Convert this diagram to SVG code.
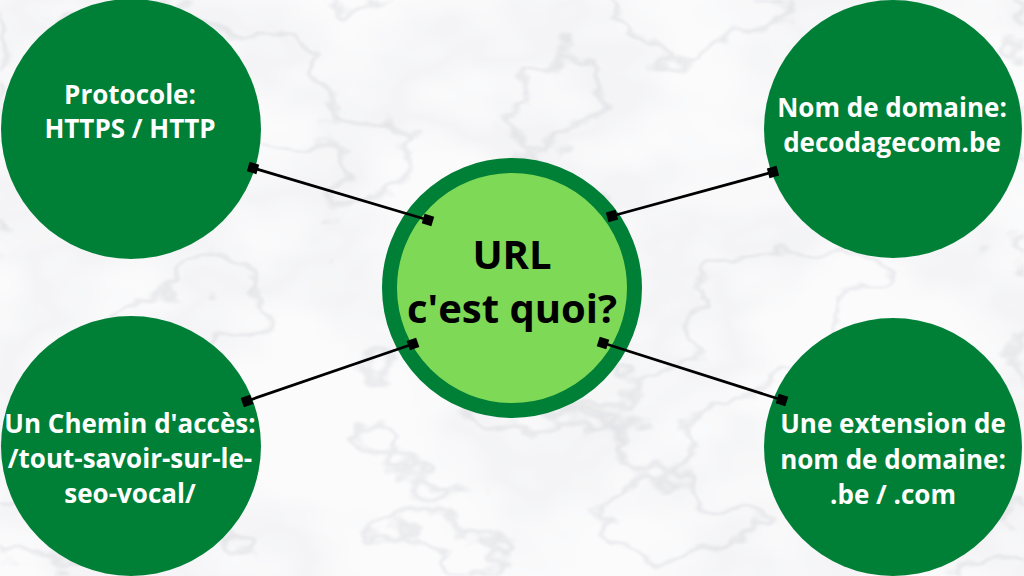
<svg xmlns="http://www.w3.org/2000/svg" width="1024" height="576" viewBox="0 0 1024 576">
<defs>
<style>
.node{fill:#008037;}
.lbl{font-family:"Open Sans","Liberation Sans",sans-serif;font-weight:700;font-size:26px;fill:#ffffff;text-anchor:middle;}
.center-lbl{font-family:"Open Sans","Liberation Sans",sans-serif;font-weight:700;font-size:40px;fill:#000000;text-anchor:middle;}
.conn{stroke:#000000;stroke-width:2.8;fill:none;marker-start:url(#sq);marker-end:url(#sq);}
</style>
<marker id="sq" markerUnits="userSpaceOnUse" markerWidth="12" markerHeight="12" refX="6" refY="6" orient="auto">
<rect x="1" y="1" width="10" height="10" fill="#000000"/>
</marker>
<filter id="clouds" x="0" y="0" width="100%" height="100%" color-interpolation-filters="sRGB">
<feTurbulence type="fractalNoise" baseFrequency="0.004 0.006" numOctaves="4" seed="7" result="n"/>
<feColorMatrix in="n" type="matrix" values="0 0 0 0 0  0 0 0 0 0  0 0 0 0 0  1 0 0 0 0" result="a"/>
<feComponentTransfer in="a" result="ca"><feFuncA type="table" tableValues="0 0 0 0 0 0.03 0.08 0.03 0 0 0"/></feComponentTransfer>
<feFlood flood-color="#9ea2ad"/>
<feComposite in2="ca" operator="in"/>
</filter>
<filter id="veins" x="0" y="0" width="100%" height="100%" color-interpolation-filters="sRGB">
<feTurbulence type="fractalNoise" baseFrequency="0.005 0.008" numOctaves="5" seed="3" result="n"/>
<feColorMatrix in="n" type="matrix" values="0 0 0 0 0  0 0 0 0 0  0 0 0 0 0  1 0 0 0 0" result="a"/>
<feComponentTransfer in="a" result="va"><feFuncA type="table" tableValues="0 0 0 0 0 0 0 0 0 0 0 0 0 0 0 0 0 0 0.16 0 0 0 0 0 0 0 0 0 0 0 0 0 0 0 0 0 0 0 0 0 0"/></feComponentTransfer>
<feGaussianBlur in="va" stdDeviation="0.8" result="vb"/>
<feFlood flood-color="#8c909b"/>
<feComposite in2="vb" operator="in"/>
</filter>
</defs>
<g id="background">
<rect x="0" y="0" width="1024" height="576" fill="#fbfbfc"/>
<rect x="0" y="0" width="1024" height="576" filter="url(#clouds)"/>
<rect x="0" y="0" width="1024" height="576" filter="url(#veins)"/>
</g>
<g id="node-center">
<circle cx="512" cy="288" r="122.5" fill="#7ED957" stroke="#008037" stroke-width="15"/>
<text class="center-lbl" x="512" y="269">URL</text>
<text class="center-lbl" x="512" y="323">c'est quoi?</text>
</g>
<g id="node-protocole">
<circle class="node" cx="131" cy="129" r="130"/>
<text class="lbl" x="130" y="104">Protocole:</text>
<text class="lbl" x="130" y="138">HTTPS / HTTP</text>
</g>
<g id="node-domaine">
<circle class="node" cx="893" cy="129" r="129"/>
<text class="lbl" x="892" y="117">Nom de domaine:</text>
<text class="lbl" x="892" y="152">decodagecom.be</text>
</g>
<g id="node-chemin">
<circle class="node" cx="131" cy="446" r="130"/>
<text class="lbl" x="130" y="433">Un Chemin d'accès:</text>
<text class="lbl" x="130" y="468">/tout-savoir-sur-le-</text>
<text class="lbl" x="130" y="503">seo-vocal/</text>
</g>
<g id="node-extension">
<circle class="node" cx="893" cy="447" r="129"/>
<text class="lbl" x="893" y="433">Une extension de</text>
<text class="lbl" x="893" y="469">nom de domaine:</text>
<text class="lbl" x="893" y="504">.be / .com</text>
</g>
<g id="connectors">
<line class="conn" x1="253" y1="168" x2="428" y2="220"/>
<line class="conn" x1="612" y1="216" x2="773" y2="172"/>
<line class="conn" x1="413" y1="344" x2="247" y2="401"/>
<line class="conn" x1="603" y1="343" x2="782" y2="400"/>
</g>
</svg>
